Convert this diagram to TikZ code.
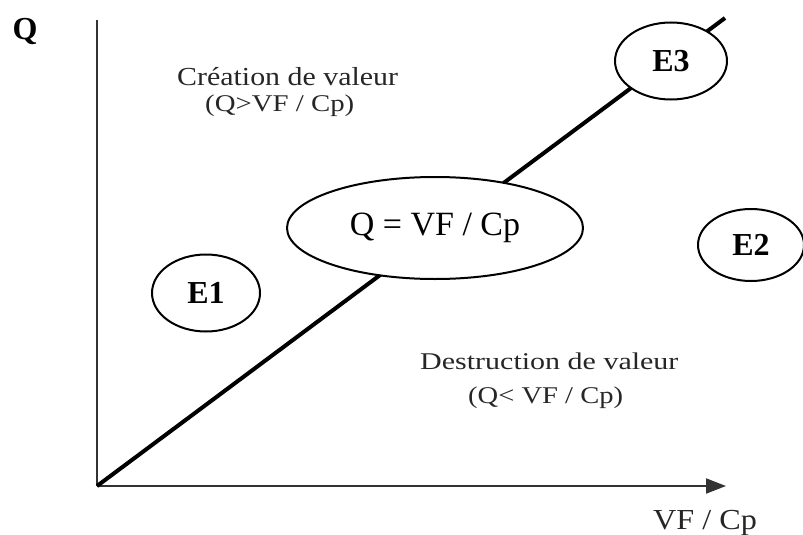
\documentclass[tikz,border=0pt]{standalone}
\usepackage{fontspec}
\setmainfont{Liberation Serif}
\usetikzlibrary{shapes.geometric,arrows.meta}
\newcommand\fsz[1]{\fontsize{#1}{#1}\selectfont}
\tikzset{
  lbl/.style={inner sep=0pt, anchor=base west, text=black!85},
  ebox/.style={ellipse, draw=black, line width=2pt, fill=white, inner sep=0pt, text=black},
  estate/.style={ebox, minimum width=108pt, minimum height=77pt, font=\bfseries\fsz{32}},
  axis/.style={draw=black!80, line width=2pt},
  diag/.style={draw=black, line width=4pt}
}
\begin{document}
\begin{tikzpicture}[x=1pt,y=-1pt]
\useasboundingbox (0,0) rectangle (803,535);
% axes
\coordinate (O) at (97,486);
\coordinate (Ytop) at (97,20);
\coordinate (Xend) at (726,486);
\coordinate (Dend) at (725,18);
\draw[axis] (Ytop) -- (O);
\draw[axis, -{Triangle[length=20pt,width=15pt]}] (O) -- (Xend);
\draw[diag] (O) -- (Dend);
% axis labels
\node[inner sep=0pt, font=\bfseries\fsz{32}] (qlab) at (25,32) {Q};
\node[lbl] (xlab) at (653,529) {\fsz{29}\scalebox{1.11}[1]{VF / Cp}};
% region labels
\node[lbl] (crea) at (177,85) {\fsz{26}\scalebox{1.15}[1]{Création de valeur}};
\node[lbl] (creab) at (205,111) {\fsz{24}\scalebox{1.2}[1]{(Q>VF / Cp)}};
\node[lbl] (dest) at (420,369) {\fsz{24}\scalebox{1.25}[1]{Destruction de valeur}};
\node[lbl] (destb) at (468,403) {\fsz{24}\scalebox{1.19}[1]{(Q< VF / Cp)}};
% ellipses
\node[ebox, minimum width=296pt, minimum height=102pt, font=\fsz{34}] (eq) at (435,228) {Q = VF / Cp};
\node[estate] (e1) at (206,293) {E1};
\node[estate, minimum width=112pt] (e3) at (671,61) {E3};
\node[estate, minimum width=106pt, minimum height=72pt] (e2) at (751,245) {E2};
\end{tikzpicture}
\end{document}
